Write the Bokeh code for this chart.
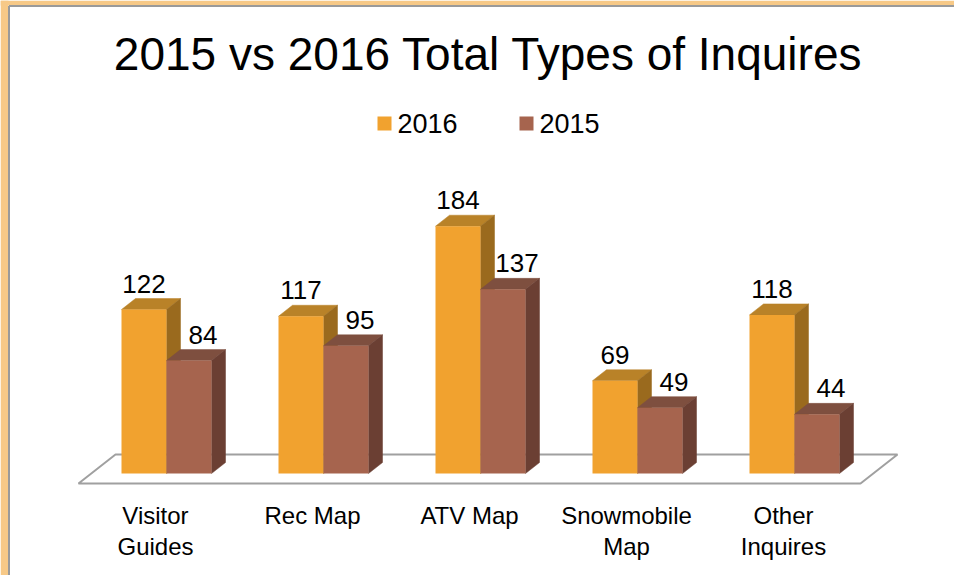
from bokeh.plotting import figure
from bokeh.models import Range1d
from bokeh.core.properties import value
from bokeh.embed import file_html
from bokeh.resources import INLINE

# ---- data ----
categories = ["Visitor\nGuides", "Rec Map", "ATV Map", "Snowmobile\nMap", "Other\nInquires"]
series_names = ["2016", "2015"]
values_2016 = [122, 117, 184, 69, 118]
values_2015 = [84, 95, 137, 49, 44]
title_text = "2015 vs 2016 Total Types of Inquires"

# ---- geometry (pixel mapping) ----
W, H = 954, 575
X0_PX, XSTEP_PX = 166.0, 157.0      # category 0 centre, spacing
Y0_PX, YSCALE = 473.0, 1.344        # baseline pixel row, px per unit

def px2x(px):
    return (px - X0_PX) / XSTEP_PX

def py2y(py):
    return (Y0_PX - py) / YSCALE

p = figure(width=W, height=H, output_backend="svg", toolbar_location=None,
           x_range=Range1d(px2x(0), px2x(W)), y_range=Range1d(py2y(H), py2y(0)),
           min_border=0, min_border_left=0, min_border_right=0,
           min_border_top=0, min_border_bottom=0)
p.axis.visible = False
p.grid.visible = False
p.outline_line_color = None
p.background_fill_color = "white"
p.border_fill_color = "white"

FONT = value("Liberation Sans")

# frame border (orange strip + grey line)
p.quad(left=[px2x(0)], right=[px2x(8)], bottom=[py2y(H)], top=[py2y(0)],
       fill_color="#F7C987", line_color=None)
p.quad(left=[px2x(0)], right=[px2x(W)], bottom=[py2y(5)], top=[py2y(0)],
       fill_color="#F7C987", line_color=None)
p.line([px2x(8.5), px2x(8.5)], [py2y(H), py2y(5.5)], line_color="#9A9A9A", line_width=2)
p.line([px2x(8.5), px2x(W)], [py2y(5.5), py2y(5.5)], line_color="#9A9A9A", line_width=2)

# floor
fx = [px2x(78), px2x(860), px2x(897), px2x(115)]
fy = [py2y(483), py2y(483), py2y(454), py2y(454)]
p.patch(fx, fy, fill_color="white", line_color="#A0A0A0", line_width=2)

# bars
bw = 45.0 / XSTEP_PX
dx = 14.0 / XSTEP_PX
dy = 11.0 / YSCALE
styles = [
    dict(front="#F1A22F", top="#B98228", side="#9A6A1E", off=-bw / 2, lab_dx=0.0),
    dict(front="#A6644E", top="#7E4F3F", side="#6B3F33", off=bw / 2, lab_dx=dx),
]
series = [values_2016, values_2015]

for ci in range(len(categories)):
    for si, vals in enumerate(series):
        st = styles[si]
        v = vals[ci]
        xc = ci + st["off"]
        x0, x1 = xc - bw / 2, xc + bw / 2
        # top face
        p.patch([x0, x1, x1 + dx, x0 + dx], [v, v, v + dy, v + dy],
                fill_color=st["top"], line_color=st["top"], line_width=0.5)
        # side face
        p.patch([x1, x1 + dx, x1 + dx, x1], [0, dy, v + dy, v],
                fill_color=st["side"], line_color=st["side"], line_width=0.5)
        # front face
        p.vbar(x=[xc], top=[v], bottom=0, width=bw,
               fill_color=st["front"], line_color=None)

# value labels
for si, vals in enumerate(series):
    st = styles[si]
    xs = [i + st["off"] + st["lab_dx"] for i in range(len(vals))]
    ys = [v + dy + 6.0 / YSCALE for v in vals]
    p.text(x=xs, y=ys, text=[str(v) for v in vals], text_align="center",
           text_baseline="bottom", text_font=FONT, text_font_size="26px",
           text_color="black")

# category labels
p.text(x=[i - 11.0 / XSTEP_PX for i in range(len(categories))],
       y=[py2y(501)] * len(categories), text=categories,
       text_align="center", text_baseline="top", text_font=FONT,
       text_font_size="24px", text_line_height=1.17, text_color="black")

# title
p.text(x=[px2x(488)], y=[py2y(53)], text=[title_text], text_align="center",
       text_baseline="middle", text_font=FONT, text_font_size="46px",
       text_color="black")

# legend
leg_sq = [377, 519]
for si, name in enumerate(series_names):
    lx = leg_sq[si]
    p.quad(left=[px2x(lx)], right=[px2x(lx + 14)], bottom=[py2y(130)], top=[py2y(116)],
           fill_color=styles[si]["front"], line_color=None)
    p.text(x=[px2x(lx + 20)], y=[py2y(123)], text=[name], text_align="left",
           text_baseline="middle", text_font=FONT, text_font_size="27px",
           text_color="black")

open("out.html", "w").write(file_html(p, INLINE))
